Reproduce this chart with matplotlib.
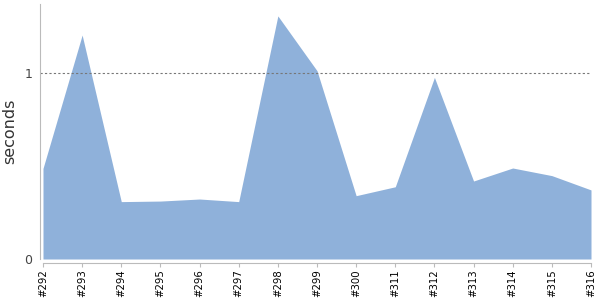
import numpy as np
import matplotlib.pyplot as plt

builds = ['#292', '#293', '#294', '#295', '#296', '#297', '#298', '#299',
          '#300', '#311', '#312', '#313', '#314', '#315', '#316']
seconds = [0.488, 1.206, 0.309, 0.312, 0.323, 0.309, 1.309, 1.014,
           0.341, 0.389, 0.978, 0.420, 0.490, 0.449, 0.372]

fig = plt.figure(figsize=(6, 3), dpi=100)
ax = fig.add_axes([43/600, 1 - 259/300, 548/600, 255/300])

# spine positions first: set_position resets the ticks
for s in ['top', 'right']:
    ax.spines[s].set_visible(False)
ax.spines['left'].set_position(('outward', 2.5))
ax.spines['bottom'].set_position(('outward', 3))
ax.spines['left'].set_color('#bbbbbb')
ax.spines['bottom'].set_color('#bbbbbb')

x = np.arange(len(builds))
ax.fill_between(x, 0, seconds, color='#8fb1da', lw=0)
ax.axhline(1, color='#777777', ls=(0, (2, 2)), lw=0.8, clip_on=False,
           xmin=-3.5/548, xmax=1)

ax.set_xlim(0, len(builds) - 1)
ax.set_ylim(0, 255/185.7)
ax.set_xticks(x)
ax.set_xticklabels(builds)
ax.set_yticks([0, 1])
ax.set_yticklabels(['0', '1'])
ax.tick_params(axis='x', length=3, color='#bbbbbb', pad=1.5, labelrotation=90,
               labelsize=7.3, labelcolor='black')
ax.tick_params(axis='y', length=0, pad=5, labelsize=9, labelcolor='#444444')

ax.set_ylabel('seconds', fontsize=11.5, color='#333333')
ax.yaxis.set_label_coords(-25.5/548, 0.5)

fig.savefig('out.png', dpi=100)
